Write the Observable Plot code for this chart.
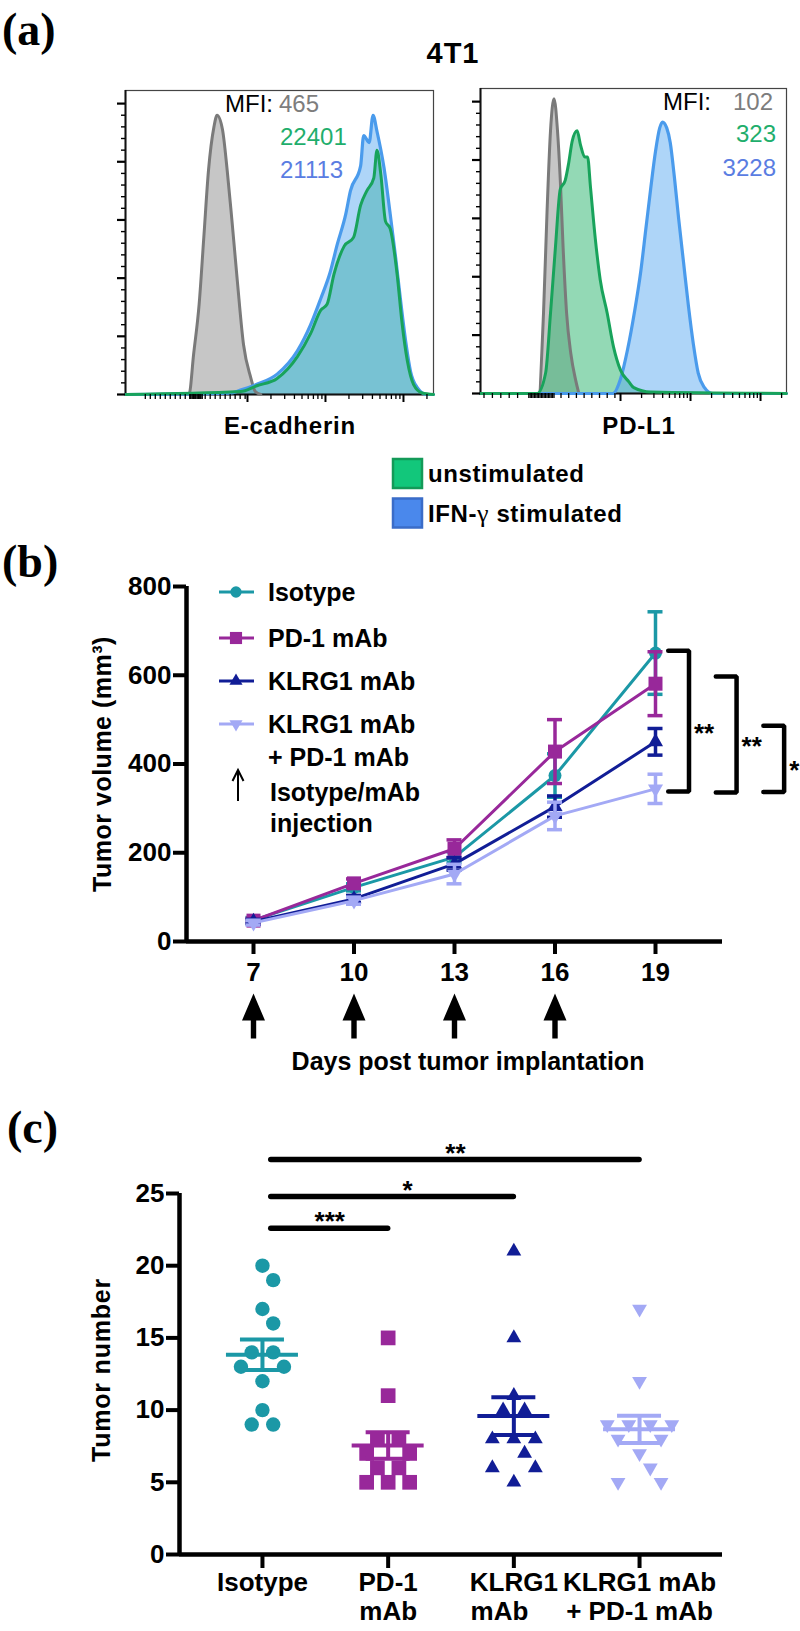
<!DOCTYPE html>
<html>
<head>
<meta charset="utf-8">
<script src="https://cdn.jsdelivr.net/npm/d3@7"></script>
<script src="https://cdn.jsdelivr.net/npm/@observablehq/plot@0.6"></script>
<style>
  html, body { margin: 0; padding: 0; background: #fff; }
  #root { position: relative; width: 800px; height: 1631px; overflow: hidden; background: #fff; }
  #root > svg { position: absolute; }
</style>
</head>
<body>
<div id="root"></div>
<script>
// ======================= DATA =======================
// (a) flow histograms. x = log10 fluorescence (display units), y = % of mode
const ecadGrayX  = [1.44, 2.25, 2.31, 2.38, 2.44, 2.50, 2.57, 2.61, 2.68, 2.74, 2.80, 2.87, 2.95, 3.04, 3.10, 3.17];
const ecadGrayY  = [0, 0, 14, 31, 54, 77, 92, 96, 91, 77, 60, 39, 17, 6, 1, 0];
const ecadGreenX = [1.44, 2.91, 3.12, 3.38, 3.64, 3.81, 3.94, 4.02, 4.11, 4.24, 4.36, 4.45, 4.53, 4.62, 4.66, 4.71, 4.77, 4.83, 4.92, 4.98, 5.05, 5.13, 5.24, 5.385];
const ecadGreenY = [0, 1, 3, 5.5, 13, 21, 29, 31, 41.5, 51, 54, 65, 70, 74.5, 84, 75.6, 59.5, 57, 41, 25, 11.5, 3.4, 0.5, 0];
const ecadBlueX  = [1.44, 2.78, 2.91, 3.12, 3.38, 3.64, 3.81, 3.94, 4.06, 4.15, 4.26, 4.32, 4.45, 4.49, 4.56, 4.61, 4.66, 4.75, 4.83, 4.90, 4.96, 5.03, 5.09, 5.18, 5.30, 5.385];
const ecadBlueY  = [0, 0.5, 1.5, 3.5, 7, 15, 24, 33, 42, 51.5, 62, 70, 78.5, 89, 86.6, 96, 90.5, 78, 62, 47, 33, 18, 8, 2.3, 0, 0];

const pdl1GrayX  = [1.0, 1.83, 1.90, 1.95, 2.00, 2.05, 2.10, 2.14, 2.18, 2.23, 2.29, 2.36, 2.40];
const pdl1GrayY  = [0, 0, 27.5, 62, 90, 101, 90, 73, 50, 27.5, 13.7, 4.5, 0.5];
const pdl1GreenX = [1.0, 1.81, 1.93, 2.00, 2.07, 2.14, 2.21, 2.26, 2.31, 2.38, 2.43, 2.49, 2.53, 2.57, 2.64, 2.71, 2.81, 2.90, 3.00, 3.12, 3.19, 3.43, 5.37];
const pdl1GreenY = [0, 0, 7, 27.5, 50, 70, 73, 79, 86.5, 90, 85, 81, 81, 71, 53, 39, 27.5, 16, 8, 4, 2, 0.5, 0];
const pdl1BlueX  = [1.0, 2.89, 3.00, 3.10, 3.20, 3.29, 3.36, 3.43, 3.50, 3.56, 3.60, 3.66, 3.71, 3.77, 3.83, 3.90, 3.97, 4.04, 4.11, 4.20, 4.31, 5.37];
const pdl1BlueY  = [0, 0, 5, 15, 28, 42, 56, 70, 83, 91, 93, 91, 86, 74, 60, 45, 30, 17, 7, 2, 0, 0];

const ecadMFI = [465, 22401, 21113];
const pdl1MFI = [102, 323, 3228];
const markerNames = ["E-cadherin", "PD-L1"];
const conditionNames = ["unstimulated", "IFN-γ stimulated"];
const histYMajor = [0, 20, 40, 60, 80, 100];
const histYMinor = [4, 8, 12, 16, 24, 28, 32, 36, 44, 48, 52, 56, 64, 68, 72, 76, 84, 88, 92, 96];
const histDecades = [3, 4, 5];

// (b) tumour growth, mean ± SEM (mm³)
const days = [7, 10, 13, 16, 19];
const injectionDays = [7, 10, 13, 16];
const volIsotype = [48, 122, 190, 374, 650];
const seIsotype  = [6, 8, 12, 49, 93];
const volPD1     = [47, 131, 209, 428, 581];
const sePD1      = [5, 10, 20, 72, 72];
const volKLRG1   = [45, 96, 175, 304, 450];
const seKLRG1    = [5, 8, 14, 24, 30];
const volCombo   = [42, 92, 152, 283, 344];
const seCombo    = [5, 8, 22, 31, 33];
const volTicks   = [0, 200, 400, 600, 800];
const groupNamesB = ["Isotype", "PD-1 mAb", "KLRG1 mAb", "KLRG1 mAb\n+ PD-1 mAb"];
const bracketTop    = [655, 597, 486];
const bracketBottom = [338, 336, 337];
const bracketStars  = ["**", "**", "*"];

// (c) tumour number per mouse
const numIsotype = [20, 19, 17, 16, 14, 14, 13, 13, 12, 10, 9, 9];
const numPD1     = [15, 11, 8, 8, 7, 7, 6, 6, 5, 5, 5];
const numKLRG1   = [21, 15, 11, 10, 10, 8, 8, 8, 7, 6, 6, 5];
const numCombo   = [17, 12, 9, 9, 9, 9, 8, 8, 7, 6, 5, 5];
const numTicks   = [0, 5, 10, 15, 20, 25];
const catLabels  = ["Isotype", "PD-1\nmAb", "KLRG1\nmAb    ", "KLRG1 mAb\n+ PD-1 mAb"];
const sigTo    = [1, 2, 3];
const sigY     = [22.6, 24.8, 27.35];
const sigStars = ["***", "*", "**"];

// ======================= STYLE =======================
const C = {
  iso: "#1b98a6", pd1: "#98289a", klrg1: "#111d96", combo: "#a3a9f5",
  grayFill: "#c6c6c6", grayLine: "#7a7a7a",
  greenFill: "#28b46c", greenLine: "#18a35b",
  blueFill: "#5eabf2", blueLine: "#4a9bec",
  mfiGray: "#7d7d7d", mfiGreen: "#1fae6c", mfiBlue: "#5a7de2",
  legGreen: "#12c77b", legGreenEdge: "#139a58", legBlue: "#4a88ec", legBlueEdge: "#3a6cc8"
};
const SANS = "Liberation Sans, Arial, Helvetica, sans-serif";
const SERIF = "Liberation Serif, Times New Roman, serif";
const root = document.getElementById("root");
function place(svg, left, top) { svg.style.position = "absolute"; svg.style.left = left + "px"; svg.style.top = top + "px"; root.appendChild(svg); }

const sqrt3 = Math.sqrt(3);
const triangleDown = {
  draw(context, size) {
    const y = -Math.sqrt(size / (sqrt3 * 3));
    context.moveTo(0, -y * 2);
    context.lineTo(-sqrt3 * y, y);
    context.lineTo(sqrt3 * y, y);
    context.closePath();
  }
};

// ======================= (a) HISTOGRAMS =======================
const logMinor = (d0, d1) => d3.range(d0, d1).flatMap(d => d3.range(2, 10).map(k => d + Math.log10(k)));
function histogram(s) {
  const rows = (X, Y) => X.map((x, i) => ({x, y: Y[i]}));
  const gray = rows(s.grayX, s.grayY), green = rows(s.greenX, s.greenY), blue = rows(s.blueX, s.blueY);
  const noText = () => "";
  const cv = "monotone-x";
  return Plot.plot({
    width: s.w, height: s.h,
    marginLeft: s.ml, marginRight: s.mr, marginTop: s.mt, marginBottom: s.mb,
    style: {background: "transparent", color: "black", fontFamily: SANS},
    x: {domain: s.xDomain},
    y: {domain: [0, 104.5]},
    marks: [
      Plot.areaY(gray, {x: "x", y: "y", fill: C.grayFill, curve: cv}),
      Plot.areaY(green, {x: "x", y: "y", fill: C.greenFill, fillOpacity: 0.5, curve: cv}),
      Plot.areaY(blue, {x: "x", y: "y", fill: C.blueFill, fillOpacity: 0.5, curve: cv}),
      Plot.frame({stroke: "#444", strokeWidth: 1.2}),
      Plot.ruleY([0], {stroke: "#111", strokeWidth: 2}),
      Plot.ruleX([s.xDomain[0]], {stroke: "#111", strokeWidth: 2}),
      Plot.line(gray, {x: "x", y: "y", stroke: C.grayLine, strokeWidth: 3, curve: cv}),
      Plot.line(blue, {x: "x", y: "y", stroke: C.blueLine, strokeWidth: 3.2, curve: cv}),
      Plot.line(green, {x: "x", y: "y", stroke: C.greenLine, strokeWidth: 3, curve: cv}),
      Plot.axisY({ticks: histYMajor, tickSize: 8, tickFormat: noText, label: null, strokeWidth: 2.2}),
      Plot.axisY({ticks: histYMinor, tickSize: 4, tickFormat: noText, label: null, strokeWidth: 1.4}),
      Plot.axisX({ticks: histDecades, tickSize: 8, tickFormat: noText, label: null, strokeWidth: 2}),
      Plot.axisX({ticks: s.xMinor, tickSize: 5, tickFormat: noText, label: null, strokeWidth: 1.3})
    ]
  });
}
place(histogram({
  grayX: ecadGrayX, grayY: ecadGrayY, greenX: ecadGreenX, greenY: ecadGreenY, blueX: ecadBlueX, blueY: ecadBlueY,
  xDomain: [1.436, 5.385], w: 460, h: 450, ml: 125, mr: 27, mt: 90, mb: 56,
  xMinor: [...d3.range(1.69, 2.97, 0.064), ...d3.range(2.26, 2.42, 0.016), ...logMinor(3, 5), 5 + Math.log10(2)]
}), 0, 0);
place(histogram({
  grayX: pdl1GrayX, grayY: pdl1GrayY, greenX: pdl1GreenX, greenY: pdl1GreenY, blueX: pdl1BlueX, blueY: pdl1BlueY,
  xDomain: [1.0, 5.371], w: 360, h: 450, ml: 40, mr: 14, mt: 88, mb: 57,
  xMinor: [...d3.range(1.05, 1.6, 0.12), ...d3.range(1.69, 2.07, 0.02), ...d3.range(2.15, 2.95, 0.11), ...logMinor(3, 5), 5 + Math.log10(2)]
}), 440, 0);

// ======================= (b) GROWTH CURVES =======================
const LB = {top: 540, w: 800, h: 540, ml: 186, mr: 78, mt: 46, mb: 139};
const xDomB = [5, 21];
const pxPerDay = (LB.w - LB.ml - LB.mr) / (xDomB[1] - xDomB[0]);
const capB = 7.5 / pxPerDay;
const groupsB = [
  {mean: volIsotype, se: seIsotype, color: C.iso, symbol: "circle", r: 6.5},
  {mean: volPD1, se: sePD1, color: C.pd1, symbol: "square", r: 7.9},
  {mean: volKLRG1, se: seKLRG1, color: C.klrg1, symbol: "triangle", r: 5.6},
  {mean: volCombo, se: seCombo, color: C.combo, symbol: triangleDown, r: 5.6}
];
const bigArrow = {
  draw(context, l) {
    const head = 27, hw = 11.5, sw = 2.7;
    context.moveTo(-sw, 0);
    context.lineTo(-sw, -(l - head));
    context.lineTo(-hw, -(l - head));
    context.lineTo(0, -l);
    context.lineTo(hw, -(l - head));
    context.lineTo(sw, -(l - head));
    context.lineTo(sw, 0);
    context.closePath();
  }
};
const brackets = bracketTop.map((top, i) => ({i, top, bottom: bracketBottom[i], label: bracketStars[i]}));
const bx0 = i => 19.38 + i * 1.42, bx1 = i => bx0(i) + 0.62;
const bracketPts = brackets.flatMap(b => [
  {k: b.i, x: bx0(b.i), y: b.top}, {k: b.i, x: bx1(b.i), y: b.top},
  {k: b.i, x: bx1(b.i), y: b.bottom}, {k: b.i, x: bx0(b.i), y: b.bottom}]);

const marksB = [
  Plot.ruleY([0], {stroke: "#000", strokeWidth: 4.5}),
  Plot.ruleX([xDomB[0]], {stroke: "#000", strokeWidth: 4.5}),
  Plot.axisY({ticks: volTicks, tickSize: 13, tickPadding: 2, strokeWidth: 4, fontSize: 26, fontWeight: "bold", label: null}),
  Plot.axisX({ticks: days, tickSize: 13, tickPadding: 8, strokeWidth: 4, fontSize: 26, fontWeight: "bold", label: null})
];
for (const g of groupsB) {
  const rows = days.map((d, i) => ({day: d, mean: g.mean[i], se: g.se[i]}));
  marksB.push(
    Plot.ruleX(rows, {x: "day", y1: d => d.mean - d.se, y2: d => d.mean + d.se, stroke: g.color, strokeWidth: 3.5}),
    Plot.ruleY(rows, {y: d => d.mean + d.se, x1: d => d.day - capB, x2: d => d.day + capB, stroke: g.color, strokeWidth: 3.5}),
    Plot.ruleY(rows, {y: d => d.mean - d.se, x1: d => d.day - capB, x2: d => d.day + capB, stroke: g.color, strokeWidth: 3.5}),
    Plot.line(rows, {x: "day", y: "mean", stroke: g.color, strokeWidth: 3}),
    Plot.dot(rows, {x: "day", y: "mean", symbol: g.symbol, r: g.r, fill: g.color, stroke: "none"})
  );
}
marksB.push(
  Plot.vector(injectionDays, {x: d => d, frameAnchor: "bottom", dy: 97, length: 45, rotate: 0, anchor: "start", shape: bigArrow, fill: "black", stroke: "none"}),
  Plot.line(bracketPts, {x: "x", y: "y", z: "k", stroke: "#000", strokeWidth: 4.5, strokeLinejoin: "miter"}),
  Plot.text(brackets, {x: b => bx1(b.i), y: b => (b.top + b.bottom) / 2, text: "label", textAnchor: "start", dx: 5, dy: 12, fontSize: 26, fontWeight: "bold"})
);
place(Plot.plot({
  width: LB.w, height: LB.h, marginLeft: LB.ml, marginRight: LB.mr, marginTop: LB.mt, marginBottom: LB.mb,
  style: {background: "transparent", color: "black", fontFamily: SANS},
  x: {domain: xDomB}, y: {domain: [0, 800]},
  marks: marksB
}), 0, LB.top);

// ======================= (c) TUMOUR NUMBER =======================
const LC = {top: 1080, w: 800, h: 551, ml: 179, mr: 78, mt: 113, mb: 77};
const xDomC = [-0.66, 3.66];
const pxPerX = (LC.w - LC.ml - LC.mr) / (xDomC[1] - xDomC[0]);
const pxPerYc = (LC.h - LC.mt - LC.mb) / 25;
const slotPx = 10.75, collide = 16;
function swarmSlots(vals) {
  const distinct = Array.from(new Set(vals)).sort((a, b) => b - a);
  const placed = [], byValue = new Map();
  for (const v of distinct) {
    const k = vals.filter(d => d === v).length;
    const cands = k === 1 ? [0, 1, -1, 2, -2, 3, -3].map(s => [s])
      : [2, 3, 4, 5, 6].map(sp => d3.range(k).map(i => (i - (k - 1) / 2) * sp));
    let chosen = cands[cands.length - 1];
    for (const c of cands) {
      const ok = c.every(s => placed.every(p => {
        const dx = (s - p.s) * slotPx, dy = (v - p.v) * pxPerYc;
        return dx * dx + dy * dy >= collide * collide;
      }));
      if (ok) { chosen = c; break; }
    }
    chosen.forEach(s => placed.push({v, s}));
    byValue.set(v, chosen.slice());
  }
  return vals.map(v => byValue.get(v).shift());
}
const groupsC = [
  {vals: numIsotype, color: C.iso, symbol: "circle", r: 7.2},
  {vals: numPD1, color: C.pd1, symbol: "square", r: 8.3},
  {vals: numKLRG1, color: C.klrg1, symbol: "triangle", r: 5.5},
  {vals: numCombo, color: C.combo, symbol: triangleDown, r: 5.5}
];
const meanHalf = 36 / pxPerX, capHalf = 22 / pxPerX;
const sig = sigTo.map((to, i) => ({to, y: sigY[i], label: sigStars[i]}));
const marksC = [
  Plot.ruleY([0], {stroke: "#000", strokeWidth: 4.5}),
  Plot.ruleX([xDomC[0]], {stroke: "#000", strokeWidth: 4.5}),
  Plot.axisY({ticks: numTicks, tickSize: 13, tickPadding: 2, strokeWidth: 4, fontSize: 26, fontWeight: "bold", label: null}),
  Plot.axisX({ticks: [0, 1, 2, 3], tickFormat: i => catLabels[i], tickSize: 14, tickPadding: 2, strokeWidth: 4, fontSize: 26, fontWeight: "bold", lineHeight: 1.12, label: null}),
  Plot.ruleY(sig, {y: "y", x1: 0.07, x2: "to", stroke: "#000", strokeWidth: 5.5, strokeLinecap: "round"}),
  Plot.text(sig, {x: d => (0.07 + d.to) / 2 + (d.to === 2 ? 0.12 : 0), y: "y", text: "label", dy: -6, fontSize: 26, fontWeight: "bold"})
];
groupsC.forEach((g, gi) => {
  const slots = swarmSlots(g.vals);
  const pts = g.vals.map((v, i) => ({x: gi + slots[i] * slotPx / pxPerX, v}));
  const m = d3.mean(g.vals), sem = d3.deviation(g.vals) / Math.sqrt(g.vals.length);
  const st = [{m, lo: m - sem, hi: m + sem}];
  marksC.push(
    Plot.dot(pts, {x: "x", y: "v", symbol: g.symbol, r: g.r, fill: g.color, stroke: "none"}),
    Plot.ruleY(st, {y: "m", x1: gi - meanHalf, x2: gi + meanHalf, stroke: g.color, strokeWidth: 4}),
    Plot.ruleY(st, {y: "hi", x1: gi - capHalf, x2: gi + capHalf, stroke: g.color, strokeWidth: 4}),
    Plot.ruleY(st, {y: "lo", x1: gi - capHalf, x2: gi + capHalf, stroke: g.color, strokeWidth: 4}),
    Plot.ruleX(st, {x: gi, y1: "lo", y2: "hi", stroke: g.color, strokeWidth: 4})
  );
});
place(Plot.plot({
  width: LC.w, height: LC.h, marginLeft: LC.ml, marginRight: LC.mr, marginTop: LC.mt, marginBottom: LC.mb,
  style: {background: "transparent", color: "black", fontFamily: SANS},
  x: {domain: xDomC}, y: {domain: [0, 25]},
  marks: marksC
}), 0, LC.top);

// ======================= TEXT / LEGEND OVERLAY =======================
const ov = d3.create("svg").attr("width", 800).attr("height", 1631)
  .style("position", "absolute").style("left", "0px").style("top", "0px").style("pointer-events", "none");
function T(x, y, s, o = {}) {
  const t = ov.append("text").attr("x", x).attr("y", y)
    .attr("font-family", o.family || SANS).attr("font-size", o.size || 25)
    .attr("font-weight", o.weight || "bold").attr("fill", o.fill || "#000")
    .attr("text-anchor", o.anchor || "start").attr("letter-spacing", o.ls || 0);
  if (o.transform) t.attr("transform", o.transform);
  t.text(s);
  return t;
}
// panel letters
T(2, 45, "(a)", {family: SERIF, size: 46});
T(2, 577, "(b)", {family: SERIF, size: 46});
T(7, 1143, "(c)", {family: SERIF, size: 46});
// (a)
T(453, 63, "4T1", {anchor: "middle", size: 29, ls: 1});
T(273, 112, "MFI:", {anchor: "end", weight: "normal", size: 24});
T(279, 112, String(ecadMFI[0]), {weight: "normal", size: 24, fill: C.mfiGray});
T(280, 145, String(ecadMFI[1]), {weight: "normal", size: 24, fill: C.mfiGreen});
T(280, 178, String(ecadMFI[2]), {weight: "normal", size: 24, fill: C.mfiBlue});
T(663, 110, "MFI:", {weight: "normal", size: 24});
T(773, 110, String(pdl1MFI[0]), {anchor: "end", weight: "normal", size: 24, fill: C.mfiGray});
T(776, 142, String(pdl1MFI[1]), {anchor: "end", weight: "normal", size: 24, fill: C.mfiGreen});
T(776, 176, String(pdl1MFI[2]), {anchor: "end", weight: "normal", size: 24, fill: C.mfiBlue});
T(290, 434, markerNames[0], {anchor: "middle", size: 24, ls: 0.8});
T(639, 434, markerNames[1], {anchor: "middle", size: 24, ls: 0.8});
ov.append("rect").attr("x", 393).attr("y", 459).attr("width", 29).attr("height", 29)
  .attr("fill", C.legGreen).attr("stroke", C.legGreenEdge).attr("stroke-width", 2.5);
ov.append("rect").attr("x", 393).attr("y", 498.5).attr("width", 29).attr("height", 29)
  .attr("fill", C.legBlue).attr("stroke", C.legBlueEdge).attr("stroke-width", 2.5);
T(428, 482, conditionNames[0], {size: 24, ls: 0.6});
{
  const [pre, post] = conditionNames[1].split("γ");
  const t = T(428, 522, "", {size: 24, ls: 0.6});
  t.append("tspan").text(pre);
  t.append("tspan").attr("font-family", SERIF).attr("font-weight", "normal").attr("font-size", 26).text("γ");
  t.append("tspan").text(post);
}
// (b) legend
const symType = s => s === "circle" ? d3.symbolCircle : s === "square" ? d3.symbolSquare : s === "triangle" ? d3.symbolTriangle : s;
const legY = [592, 638, 681, 724];
groupsB.forEach((g, i) => {
  ov.append("line").attr("x1", 219).attr("x2", 254).attr("y1", legY[i]).attr("y2", legY[i])
    .attr("stroke", g.color).attr("stroke-width", 3);
  ov.append("path").attr("d", d3.symbol(symType(g.symbol), Math.PI * g.r * g.r * 0.75)())
    .attr("transform", `translate(236,${legY[i]})`).attr("fill", g.color);
  groupNamesB[i].split("\n").forEach((line, j) => T(268, legY[i] + 9 + j * 33, line, {size: 25}));
});
ov.append("line").attr("x1", 238).attr("x2", 238).attr("y1", 801).attr("y2", 771).attr("stroke", "#000").attr("stroke-width", 2);
ov.append("path").attr("d", "M232.5,781 L238,770 L243.5,781").attr("fill", "none").attr("stroke", "#000").attr("stroke-width", 2);
T(270, 801, "Isotype/mAb", {size: 25});
T(270, 832, "injection", {size: 25});
// axis titles
T(0, 0, "Tumor volume (mm³)", {anchor: "middle", size: 25, ls: 0.5, transform: "translate(111,764) rotate(-90)"});
T(468, 1070, "Days post tumor implantation", {anchor: "middle", size: 25});
T(0, 0, "Tumor number", {anchor: "middle", size: 25, ls: 0.8, transform: "translate(110,1370) rotate(-90)"});
root.appendChild(ov.node());
</script>
</body>
</html>
